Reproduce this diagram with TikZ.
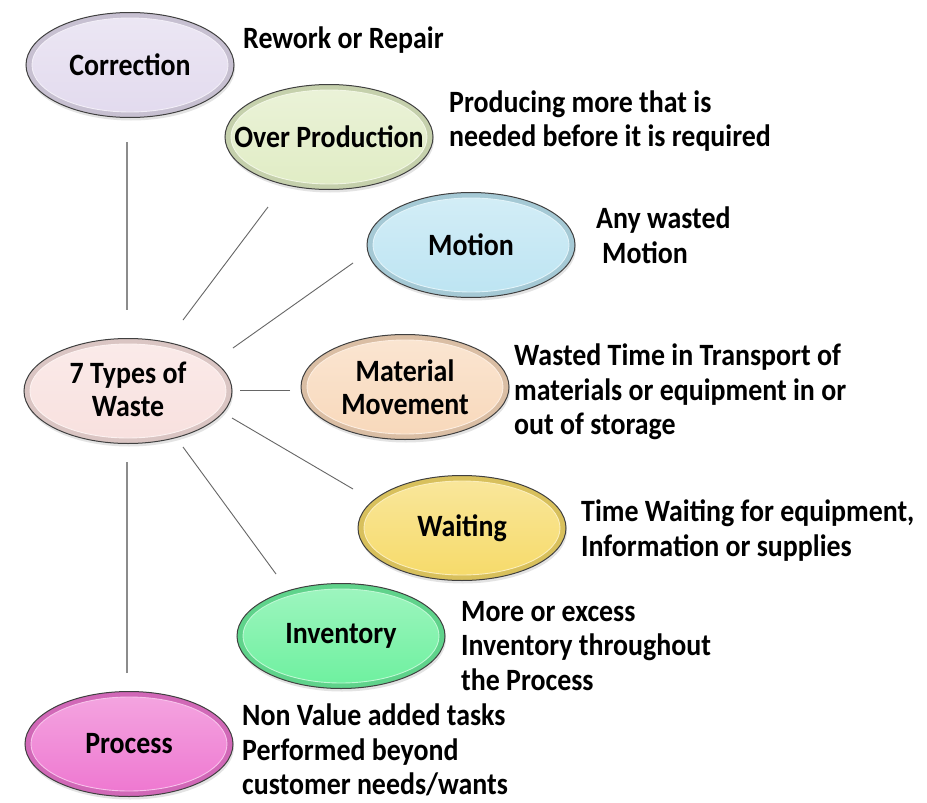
\documentclass[tikz,border=0pt]{standalone}
\usepackage{fontspec}
\setmainfont{Carlito}[FakeStretch=0.9]
\usetikzlibrary{shapes.geometric,shadows}
\definecolor{cCorr}{RGB}{226,218,238}
\definecolor{cOver}{RGB}{224,236,196}
\definecolor{cMot}{RGB}{188,228,242}
\definecolor{cWaste}{RGB}{248,224,222}
\definecolor{cMat}{RGB}{248,216,186}
\definecolor{cWait}{RGB}{246,218,104}
\definecolor{cInv}{RGB}{108,240,158}
\definecolor{cProc}{RGB}{238,118,208}
\begin{document}
\begin{tikzpicture}[x=1pt,y=-1pt,
  bubble/.style={ellipse, minimum width=208pt, minimum height=105pt, inner sep=0pt,
    draw=black!75, line width=1pt, fill=#1!88!black,
    drop shadow={opacity=0.22, shadow xshift=1pt, shadow yshift=-3pt},
    path picture={\shade[top color=#1!65!white, bottom color=#1, draw=white!55!#1, line width=0.9pt]
      (path picture bounding box.center) ellipse [x radius=98pt, y radius=47pt];}},
  lbl/.style={font=\bfseries\fontsize{31}{33}\selectfont, align=center, inner sep=0pt},
  desc/.style={font=\bfseries\fontsize{31}{34.5}\selectfont, align=left, anchor=west, inner sep=0pt},
  vline/.style={draw=black!45, line width=1.5pt},
  dline/.style={draw=black!60, line width=0.9pt}]
\useasboundingbox[fill=white] (0,0) rectangle (927,803);
% ellipses
\node[bubble=cCorr]  (corr)  at (130,65)  {};
\node[bubble=cOver]  (over)  at (329,137) {};
\node[bubble=cMot]   (mot)   at (471,245) {};
\node[bubble=cWaste] (waste) at (128,391) {};
\node[bubble=cMat]   (mat)   at (405,387) {};
\node[bubble=cWait]  (wait)  at (462,528) {};
\node[bubble=cInv]   (inv)   at (341,636) {};
\node[bubble=cProc]  (proc)  at (129,744) {};
% ellipse labels
\node[lbl] (tcorr)  at (corr)  {Correction};
\node[lbl] (tover)  at (over)  {Over Production};
\node[lbl] (tmot)   at (mot)   {Motion};
\node[lbl] (twaste) at ([yshift=2pt]waste.center) {7 Types of\\Waste};
\node[lbl] (tmat)   at (mat)   {Material\\Movement};
\node[lbl] (twait)  at (wait)  {Waiting};
\node[lbl] (tinv)   at (inv)   {Inventory};
\node[lbl] (tproc)  at (proc)  {Process};
% descriptions
\node[desc] (dcorr) at (243,40)    {Rework or Repair};
\node[desc] (dover) at (449,121)   {Producing more that is\\needed before it is required};
\node[desc] (dmot)  at (596,235)   {Any wasted\\\hspace*{6pt}Motion};
\node[desc] (dmat)  at (514,392)   {Wasted Time in Transport of\\materials or equipment in or\\out of storage};
\node[desc] (dwait) at (581,530.5) {Time Waiting for equipment,\\Information or supplies};
\node[desc] (dinv)  at (461,646)   {More or excess\\Inventory throughout\\the Process};
\node[desc] (dproc) at (242,750) {Non Value added tasks\\Performed beyond\\customer needs/wants};
% connector end points
\coordinate (a1) at (127,142); \coordinate (b1) at (127,310);
\coordinate (a2) at (268,207); \coordinate (b2) at (183,320);
\coordinate (a3) at (353,263); \coordinate (b3) at (233,348);
\coordinate (a4) at (290,390); \coordinate (b4) at (240,390);
\coordinate (a5) at (353,489); \coordinate (b5) at (232,418);
\coordinate (a6) at (276,574); \coordinate (b6) at (183,447);
\coordinate (a7) at (127,673); \coordinate (b7) at (127,462);
\draw[vline] (a1) -- (b1);
\draw[dline] (a2) -- (b2);
\draw[dline] (a3) -- (b3);
\draw[dline] (a4) -- (b4);
\draw[dline] (a5) -- (b5);
\draw[dline] (a6) -- (b6);
\draw[vline] (a7) -- (b7);
\end{tikzpicture}
\end{document}
